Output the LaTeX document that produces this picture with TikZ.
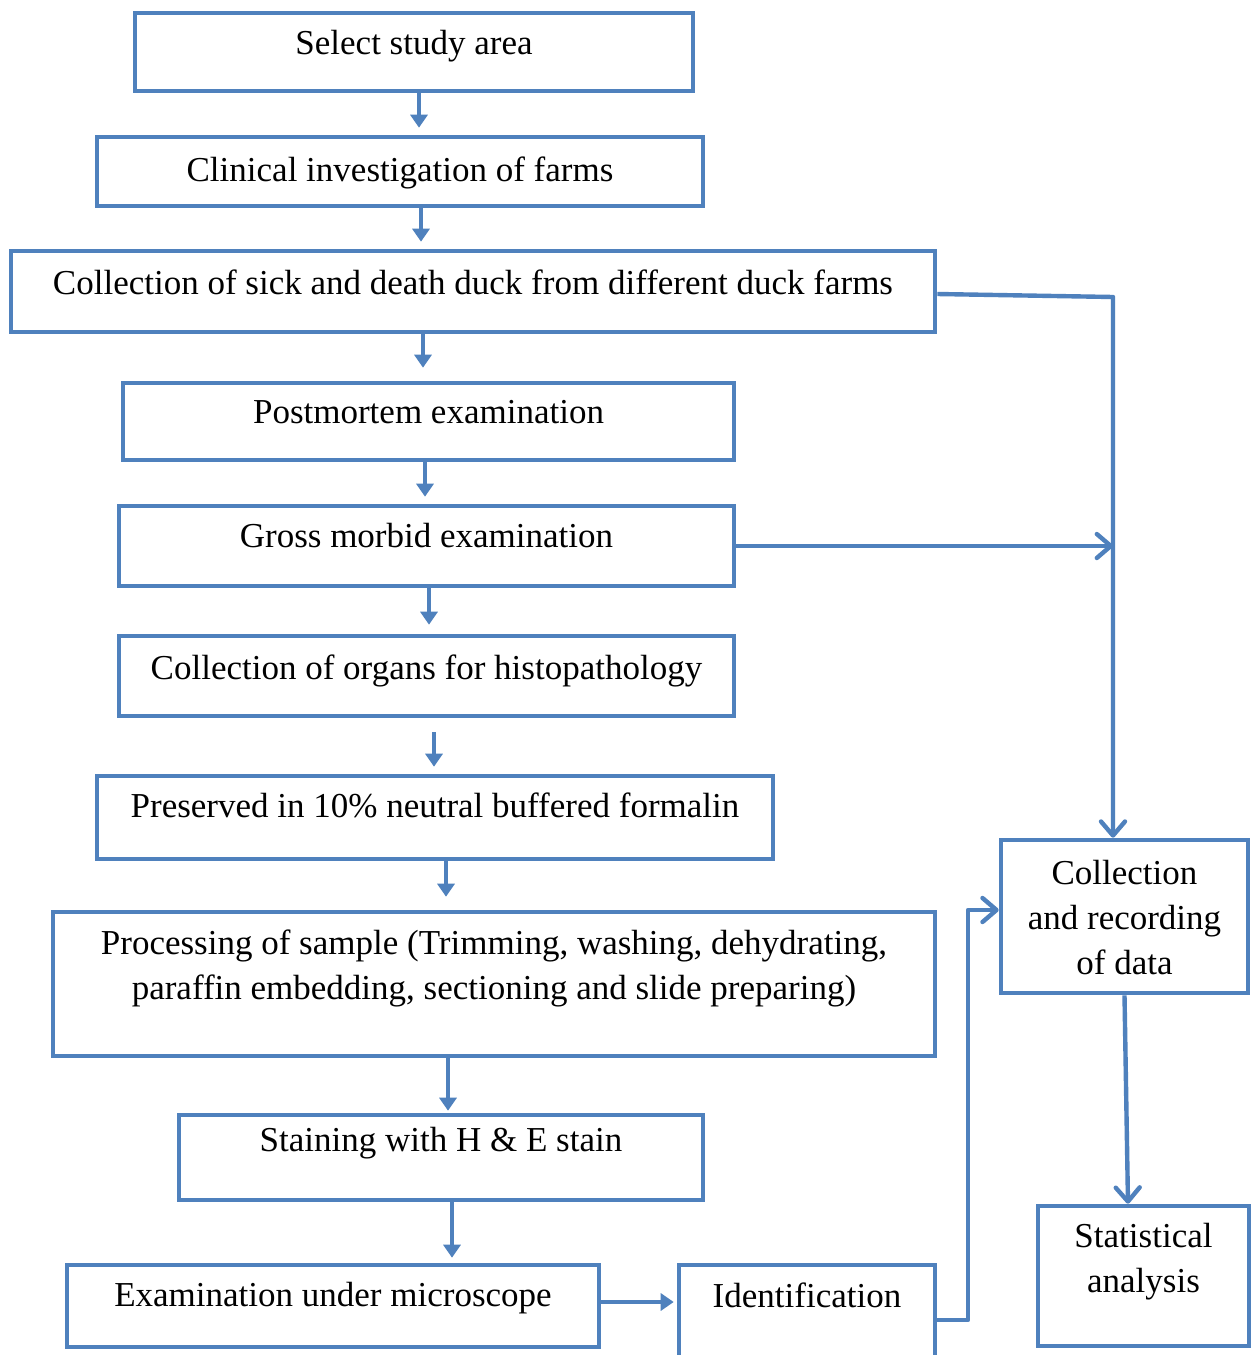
\documentclass[tikz,border=0pt]{standalone}
\usepackage{fontspec}
\setmainfont{Liberation Serif}
\usetikzlibrary{arrows.meta}
\definecolor{fb}{RGB}{79,129,189}
\begin{document}
\begin{tikzpicture}[x=1pt,y=-1pt,
 box/.style={draw=fb, line width=4.6pt, rectangle, inner sep=0pt, align=center,
   font=\fontsize{35}{45}\selectfont, text height=24pt},
 dn/.style={draw=fb, line width=4.4pt, -{Triangle[width=17pt,length=13pt]}},
 vee/.style={draw=fb, line width=4.4pt, line join=round, -{Straight Barb[length=14pt,width=24pt,round]}},
 ln/.style={draw=fb, line width=4.4pt, line join=round}
]
\clip (0,0) rectangle (1255,1355);
\fill[white] (0,0) rectangle (1255,1355);
% boxes
\node[box, minimum width=558pt, minimum height=78pt, text depth=19pt] (select) at (414,52) {Select study area};
\node[box, minimum width=606pt, minimum height=69pt, text depth=4pt] (clin) at (400,171.5) {Clinical investigation of farms};
\node[box, minimum width=924pt, minimum height=81pt, text depth=18pt] (sick) at (473,291.5) {Collection of sick and death duck from different duck farms};
\node[box, minimum width=611pt, minimum height=77pt, text depth=20pt] (post) at (428.5,421.5) {Postmortem examination};
\node[box, minimum width=615pt, minimum height=80pt, text depth=21pt] (gross) at (426.5,546) {Gross morbid examination};
\node[box, minimum width=615pt, minimum height=80pt, text depth=17pt] (org) at (426.5,676) {Collection of organs for histopathology};
\node[box, minimum width=676pt, minimum height=83pt, text depth=24pt] (pres) at (435,817.5) {Preserved in 10\% neutral buffered formalin};
\node[box, minimum width=882pt, minimum height=144pt, text height=69pt, text depth=39pt] (proc) at (494,984) {Processing of sample (Trimming, washing, dehydrating,\\paraffin embedding, sectioning and slide preparing)};
\node[box, minimum width=524pt, minimum height=85pt, text depth=36pt] (stain) at (441,1157.5) {Staining with H \& E stain};
\node[box, minimum width=532pt, minimum height=82pt, text depth=22.6pt] (exam) at (333,1306) {Examination under microscope};
\node[box, minimum width=256pt, minimum height=140pt, text depth=80pt] (ident) at (807,1335) {Identification};
\node[box, minimum width=247pt, minimum height=153pt, text height=120pt, text depth=5pt] (cdata) at (1124.5,916.5) {Collection\\and recording\\of data};
\node[box, minimum width=211pt, minimum height=140pt, text height=69pt, text depth=37pt] (stat) at (1143.5,1276) {Statistical\\analysis};
% junction coordinates
\coordinate (j1) at (1113,297);
\coordinate (k1) at (968,1320);
\coordinate (k2) at (968,910);
% down arrows
\draw[dn, shorten >=7pt] ([xshift=5pt]select.south) -- ([xshift=5pt]select.south |- clin.north);
\draw[dn, shorten >=7pt] ([xshift=21pt]clin.south) -- ([xshift=21pt]clin.south |- sick.north);
\draw[dn, shorten >=13pt] ([xshift=-50pt]sick.south) -- ([xshift=-50pt]sick.south |- post.north);
\draw[dn, shorten >=7pt] ([xshift=-3.5pt]post.south) -- ([xshift=-3.5pt]post.south |- gross.north);
\draw[dn, shorten >=9pt] ([xshift=2.5pt]gross.south) -- ([xshift=2.5pt]gross.south |- org.north);
\draw[dn, shorten <=14pt, shorten >=7pt] ([xshift=7.5pt]org.south) -- ([xshift=7.5pt]org.south |- pres.north);
\draw[dn, shorten >=13pt] ([xshift=11pt]pres.south) -- ([xshift=11pt]pres.south |- proc.north);
\draw[dn, shorten >=2pt] ([xshift=-46pt]proc.south) -- ([xshift=-46pt]proc.south |- stain.north);
\draw[dn, shorten >=5pt] ([xshift=11pt]stain.south) -- ([xshift=11pt]stain.south |- exam.north);
% side connectors
\draw[vee] ([yshift=-2.5pt]sick.east) -- (j1) -- (j1 |- cdata.north);
\draw[vee] (gross.east) -- (j1 |- gross.east);
\draw[dn, shorten >=3pt] ([yshift=4pt]exam.east) -- ([yshift=4pt]exam.east -| ident.west);
\draw[ln, -{Straight Barb[length=14pt,width=24pt,round]}] ([yshift=15pt]ident.east) -- (k1) -- (k2) -- (k2 -| cdata.west);
\draw[vee] (cdata.south) -- ([xshift=-15.5pt]stat.north);
\end{tikzpicture}
\end{document}
